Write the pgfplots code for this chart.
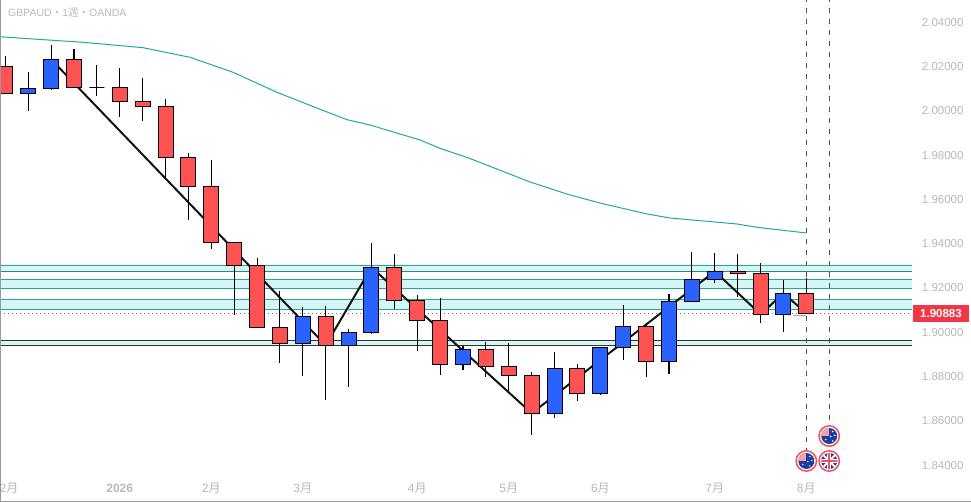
\documentclass[border=0pt]{standalone}
\usepackage{fontspec}
\setmainfont{Liberation Sans}
\newfontfamily\cjk{Noto Sans CJK JP}
\usepackage{pgfplots}
\pgfplotsset{compat=1.18}
\definecolor{cr}{HTML}{FF5252}
\definecolor{cb}{HTML}{2962FF}
\definecolor{teal1}{HTML}{22AB94}
\definecolor{band}{HTML}{D5F5F6}
\definecolor{dk}{HTML}{2F3435}
\definecolor{lab}{HTML}{B8B8B8}
\definecolor{tagred}{HTML}{F23645}
\definecolor{ring}{HTML}{F0505F}
\definecolor{fb}{HTML}{1B3F9C}
\newcommand\candle[6]{%
  \pgfmathsetmacro\xl{#1-0.3275}\pgfmathsetmacro\xr{#1+0.3275}%
  \addplot[black,line width=1.1pt] coordinates {(#1,#2)(#1,#5)};%
  \addplot[fill=#6,draw=black,line width=1pt] coordinates {(\xl,#3)(\xr,#3)(\xr,#4)(\xl,#4)} --cycle;%
}
\newcommand\bandz[2]{\addplot[draw=none,fill=band] coordinates {(-0.2316,#1)(39.618,#1)(39.618,#2)(-0.2316,#2)} --cycle;}
\newcommand\hl[2]{\addplot[#2,line width=1pt] coordinates {(-0.2316,#1)(39.618,#1)};}
\pgfdeclareplotmark{flagbase}{%
 \pgfsetlinewidth{1.5pt}\pgfsetstrokecolor{ring}\pgfsetfillcolor{white}%
 \pgfpathcircle{\pgfpointorigin}{10.2pt}\pgfusepath{fill,stroke}}
\newcommand\wstar[2]{\pgfpathcircle{\pgfpoint{#1pt}{#2pt}}{0.8pt}\pgfusepath{fill}}
\pgfdeclareplotmark{au}{%
 \pgfuseplotmark{flagbase}%
 \begin{pgfscope}\pgfpathcircle{\pgfpointorigin}{8pt}\pgfusepath{clip}%
 \pgfsetfillcolor{fb}\pgfpathrectanglecorners{\pgfpoint{-9pt}{-9pt}}{\pgfpoint{9pt}{9pt}}\pgfusepath{fill}%
 \pgfsetfillcolor{ring!55!white}\pgfpathrectanglecorners{\pgfpoint{-9pt}{0pt}}{\pgfpoint{0pt}{9pt}}\pgfusepath{fill}%
 \pgfsetfillcolor{white}\wstar{-3.5}{-3.5}\wstar{3.5}{4.5}\wstar{5.5}{0.5}\wstar{1.5}{-0.5}\wstar{3.5}{-5}%
 \end{pgfscope}}
\pgfdeclareplotmark{uk}{%
 \pgfuseplotmark{flagbase}%
 \begin{pgfscope}\pgfpathcircle{\pgfpointorigin}{8pt}\pgfusepath{clip}%
 \pgfsetfillcolor{fb}\pgfpathrectanglecorners{\pgfpoint{-9pt}{-9pt}}{\pgfpoint{9pt}{9pt}}\pgfusepath{fill}%
 \pgfsetstrokecolor{white}\pgfsetlinewidth{2pt}%
 \pgfpathmoveto{\pgfpoint{-8pt}{-8pt}}\pgfpathlineto{\pgfpoint{8pt}{8pt}}\pgfpathmoveto{\pgfpoint{-8pt}{8pt}}\pgfpathlineto{\pgfpoint{8pt}{-8pt}}\pgfusepath{stroke}%
 \pgfsetlinewidth{4pt}%
 \pgfpathmoveto{\pgfpoint{-9pt}{0pt}}\pgfpathlineto{\pgfpoint{9pt}{0pt}}\pgfpathmoveto{\pgfpoint{0pt}{-9pt}}\pgfpathlineto{\pgfpoint{0pt}{9pt}}\pgfusepath{stroke}%
 \pgfsetstrokecolor{ring}\pgfsetlinewidth{2pt}%
 \pgfpathmoveto{\pgfpoint{-9pt}{0pt}}\pgfpathlineto{\pgfpoint{9pt}{0pt}}\pgfpathmoveto{\pgfpoint{0pt}{-9pt}}\pgfpathlineto{\pgfpoint{0pt}{9pt}}\pgfusepath{stroke}%
 \end{pgfscope}}
\begin{document}
\begin{tikzpicture}[x=1pt,y=1pt]
\path[use as bounding box] (0,0) rectangle (971,502);
\begin{axis}[
  at={(0pt,1pt)},anchor=south west,
  width=912pt,height=501pt,scale only axis,
  xmin=-0.2316,xmax=39.618,ymin=1.82424,ymax=2.05027,
  clip=false,
  axis line style={draw=none},
  tick style={draw=none},
  major tick length=0pt,
  ytick={1.84,1.86,1.88,1.90,1.92,1.94,1.96,1.98,2.00,2.02,2.04},
  yticklabel pos=right,
  /pgf/number format/fixed,/pgf/number format/fixed zerofill,/pgf/number format/precision=5,
  /pgf/number format/assume math mode=true,
  yticklabel style={font=\fontsize{11.5}{12}\selectfont,text=lab,anchor=west,xshift=9.7pt,yshift=0.7pt,inner sep=0pt},
  xtick={0.16,5,9,13,18,22,26,31,35},
  xticklabels={2{\cjk 月},\textbf{2026},2{\cjk 月},3{\cjk 月},4{\cjk 月},5{\cjk 月},6{\cjk 月},7{\cjk 月},8{\cjk 月}},
  xticklabel style={font=\fontsize{12}{12}\selectfont,text=lab,anchor=center,yshift=13pt,inner sep=0pt},
]
% support / resistance bands
\bandz{1.93058}{1.92787}
\bandz{1.92426}{1.92020}
\bandz{1.91524}{1.91073}
\bandz{1.89674}{1.89448}
\hl{1.93058}{teal1}\hl{1.92787}{teal1!75!dk}\hl{1.92426}{teal1}\hl{1.92020}{teal1}
\hl{1.91524}{teal1}\hl{1.91073}{teal1}\hl{1.89674}{dk}\hl{1.89448}{dk}
% last price
\addplot[tagred,line width=1pt,dash pattern=on 1.2pt off 2.8pt] coordinates {(-0.2316,1.90883)(39.618,1.90883)};
% moving average
\addplot[teal1,line width=1pt] coordinates {(-0.232,2.03371)(1.210,2.03267)(3.395,2.03119)(6.017,2.02875)(8.070,2.02442)(9.949,2.01765)(11.872,2.00863)(13.751,2.00096)(14.931,1.99627)(15.935,1.99387)(18.121,1.98711)(18.994,1.98336)(20.305,1.97876)(22.927,1.96816)(24.675,1.96229)(25.986,1.95868)(28.040,1.95372)(29.045,1.95192)(31.973,1.94921)(32.847,1.94772)(35,1.94515)};
% zigzag
\addplot[black!92,line width=2pt,line join=round] coordinates {(2,2.02352)(14,1.89448)(16,1.92967)(23,1.86381)(31,1.92787)(33,1.90847)(34,1.91794)(35,1.90892)};
\addplot[black!35,line width=1pt] coordinates {(34.4,1.90806)(35,1.90806)};
% event lines
\addplot[black!68,line width=1pt,dash pattern=on 4.5pt off 6.5pt,dash phase=2.8pt] coordinates {(35,2.05027)(35,1.8473)};
\addplot[black!68,line width=1pt,dash pattern=on 4.5pt off 6.5pt,dash phase=2.8pt] coordinates {(36,2.05027)(36,1.8608)};
% candles: index, high, body top, body bottom, low, colour
\candle{0}{2.02501}{2.02036}{2.00818}{2.00818}{cr}
\candle{1}{2.01779}{2.01043}{2.00818}{2.00033}{cb}
\candle{2}{2.02997}{2.02352}{2.01043}{2.00980}{cb}
\candle{3}{2.02816}{2.02352}{2.01088}{2.01088}{cr}
\candle{4}{2.02094}{2.01088}{2.01088}{2.00709}{cr}
\candle{5}{2.01959}{2.01088}{2.00457}{1.99762}{cr}
\candle{6}{2.01508}{2.00457}{2.00231}{1.99582}{cr}
\candle{7}{2.00561}{2.00231}{1.97930}{1.96906}{cr}
\candle{8}{1.98111}{1.97930}{1.96622}{1.95115}{cr}
\candle{9}{1.97808}{1.96622}{1.94095}{1.93807}{cr}
\candle{10}{1.94095}{1.94095}{1.93058}{1.90829}{cr}
\candle{11}{1.93387}{1.93058}{1.90261}{1.90261}{cr}
\candle{12}{1.91898}{1.90261}{1.89539}{1.88663}{cr}
\candle{13}{1.91176}{1.90757}{1.89539}{1.88077}{cb}
\candle{14}{1.91221}{1.90757}{1.89448}{1.86994}{cr}
\candle{15}{1.90184}{1.90035}{1.89448}{1.87581}{cb}
\candle{16}{1.94064}{1.92967}{1.90035}{1.89972}{cb}
\candle{17}{1.93568}{1.92967}{1.91479}{1.91100}{cr}
\candle{18}{1.91718}{1.91479}{1.90576}{1.89205}{cr}
\candle{19}{1.91582}{1.90576}{1.88591}{1.88122}{cr}
\candle{20}{1.89430}{1.89268}{1.88591}{1.88348}{cb}
\candle{21}{1.89584}{1.89268}{1.88501}{1.88032}{cr}
\candle{22}{1.89552}{1.88501}{1.88095}{1.87373}{cr}
\candle{23}{1.88230}{1.88095}{1.86381}{1.85415}{cr}
\candle{24}{1.89146}{1.88411}{1.86381}{1.86182}{cb}
\candle{25}{1.88591}{1.88411}{1.87283}{1.86949}{cr}
\candle{26}{1.89358}{1.89358}{1.87283}{1.87220}{cb}
\candle{27}{1.91267}{1.90306}{1.89358}{1.88799}{cb}
\candle{28}{1.90441}{1.90306}{1.88727}{1.88032}{cr}
\candle{29}{1.91763}{1.91433}{1.88727}{1.88167}{cb}
\candle{30}{1.93658}{1.92426}{1.91433}{1.91433}{cb}
\candle{31}{1.93613}{1.92787}{1.92426}{1.92273}{cb}
\candle{32}{1.93568}{1.92787}{1.92697}{1.91641}{cr}
\candle{33}{1.93161}{1.92697}{1.90847}{1.90468}{cr}
\candle{34}{1.92395}{1.91794}{1.90847}{1.90062}{cb}
\candle{35}{1.92471}{1.91794}{1.90883}{1.90883}{cr}
% event icons
\addplot[only marks,mark=au] coordinates {(35,1.84229)(36,1.85356)};
\addplot[only marks,mark=uk] coordinates {(36,1.84229)};
% price tag
\node[fill=tagred,text=white,minimum width=56pt,minimum height=16.7pt,inner sep=0pt,font=\fontsize{11.5}{12}\selectfont\bfseries] at (axis cs:40.885,1.90883) {1.90883};
\end{axis}
\node[anchor=west,inner sep=0pt,text=lab,font=\fontsize{10.5}{12}\selectfont] at (8,489) {GBPAUD{\cjk ・}1{\cjk 週}{\cjk ・}OANDA};
\draw[black!40,line width=1.2pt] (0.4,1) -- (0.4,502);
\draw[black!40,line width=1pt] (0,0.9) -- (971,0.9);
\end{tikzpicture}
\end{document}
